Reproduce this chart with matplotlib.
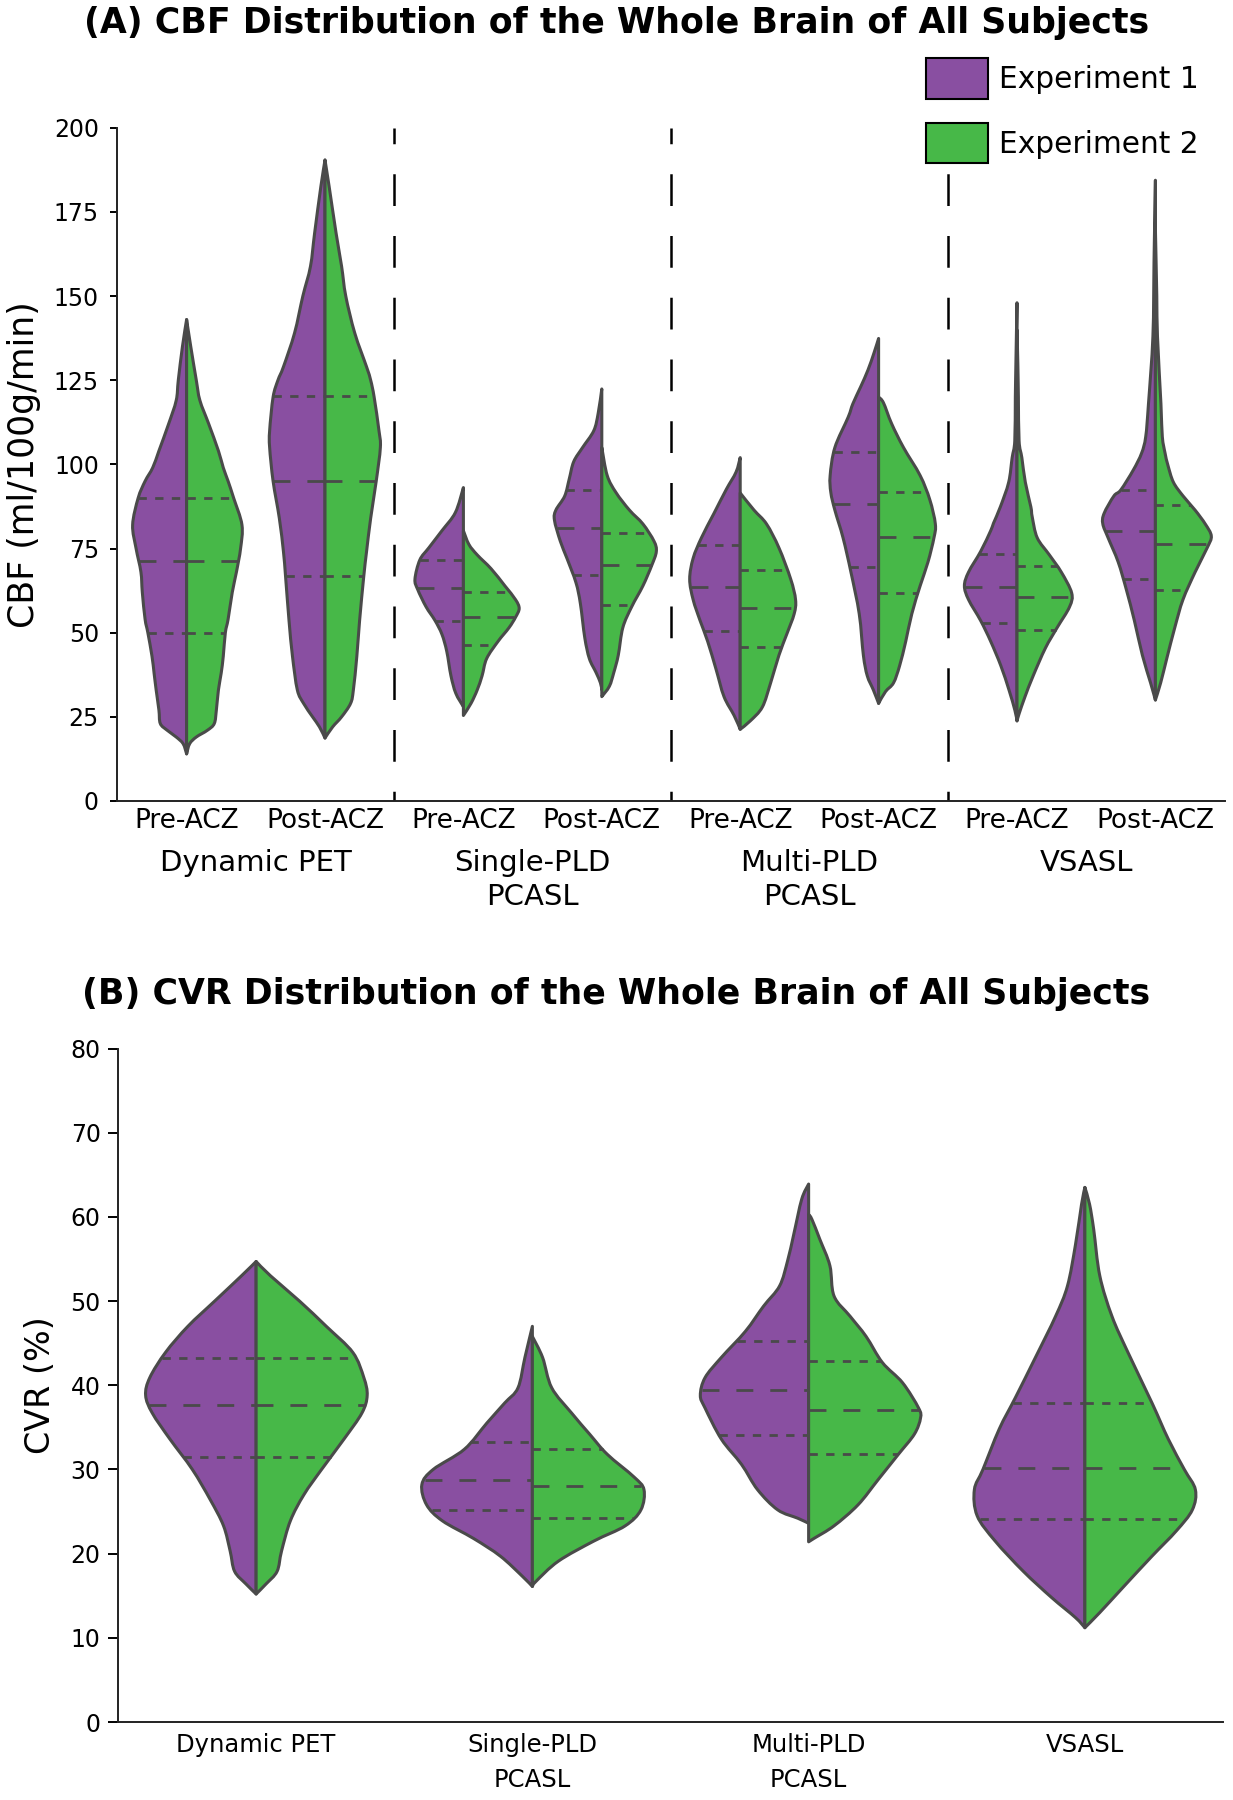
import numpy as np
import matplotlib.pyplot as plt
from matplotlib.path import Path
from matplotlib.patches import PathPatch, Patch

PURPLE = "#894FA1"
GREEN = "#47B848"
EDGE = "#4a4a4a"

# =======================
# (A) CBF: half-violin outlines -> (CBF values, half widths)
# =======================
cbf_groups = ["Dynamic PET", "Single-PLD\nPCASL", "Multi-PLD\nPCASL", "VSASL"]
cbf_ticks = ["Pre-ACZ", "Post-ACZ"] * 4

pet_pre_1 = ([143, 135, 125, 119, 112, 104, 99, 95, 90, 82, 75, 68, 62, 54, 50, 43, 38, 33, 27, 23, 21, 19, 17, 14],
             [0, .03, .06, .075, .13, .2, .245, .30, .35, .39, .365, .33, .32, .30, .28, .25, .235, .22, .20, .19, .14, .075, .025, 0])
pet_pre_2 = ([143, 135, 125, 119, 112, 104, 99, 95, 90, 82, 75, 68, 62, 54, 50, 43, 38, 33, 27, 23, 21, 19, 17, 14],
             [0, .03, .07, .096, .16, .23, .265, .30, .34, .40, .39, .36, .33, .30, .28, .265, .25, .23, .215, .20, .15, .07, .022, 0])
pet_post_1 = ([190.4, 182.5, 168.7, 158.8, 150, 139, 129, 125, 120, 110, 105, 95, 84, 74, 66.7, 53.6, 43, 33, 29, 25, 22, 18.7],
              [0, .03, .075, .105, .16, .22, .30, .34, .375, .40, .40, .375, .33, .30, .285, .26, .235, .20, .155, .09, .04, 0])
pet_post_2 = ([190.4, 182.5, 168.7, 158.8, 150, 139, 129, 125, 120, 110, 105, 95, 84, 74, 66.7, 53.6, 43, 33, 29, 25, 22, 18.7],
              [0, .03, .08, .12, .15, .215, .30, .33, .355, .39, .40, .37, .33, .30, .28, .25, .23, .205, .185, .12, .055, 0])
spld_pre_1 = ([93.1, 85.7, 80.3, 75.2, 71.6, 65.9, 62.8, 57.7, 53.6, 49.5, 44.4, 37.2, 32, 28],
              [0, .058, .155, .25, .315, .35, .33, .27, .205, .155, .12, .09, .055, 0])
spld_pre_2 = ([80.3, 76.2, 73.1, 69, 63.9, 59.8, 57.2, 54.6, 51.5, 47.4, 42.3, 37.2, 33, 29, 25.4],
              [0, .04, .10, .20, .30, .377, .403, .377, .33, .25, .168, .135, .10, .055, 0])
spld_post_1 = ([122.4, 115.2, 110, 105, 100.8, 95.7, 90.6, 86.4, 83.4, 77.2, 72.1, 64.9, 58.7, 48.5, 42.3, 38.2, 35.1, 33],
               [0, .026, .058, .139, .203, .235, .268, .332, .342, .30, .252, .187, .155, .123, .09, .042, .01, 0])
spld_post_2 = ([105, 96.7, 91.6, 86.4, 82.3, 77.2, 74.1, 70, 63.9, 57.7, 51.5, 43.3, 38.2, 34.1, 31],
               [0, .039, .103, .20, .297, .377, .394, .361, .297, .216, .152, .119, .087, .055, 0])
mpld_pre_1 = ([102, 97.7, 92.6, 85.4, 78.2, 72.1, 65.9, 59.8, 53.6, 47.4, 39.2, 31, 25.4, 21.3],
              [0, .03, .10, .19, .28, .34, .365, .34, .29, .235, .175, .117, .044, 0])
mpld_pre_2 = ([91.5, 86.4, 82.3, 75.2, 65.9, 59.8, 55.6, 49.5, 43.3, 35.1, 27.9, 23.8, 21.3],
              [0, .10, .19, .28, .365, .40, .39, .336, .28, .22, .16, .073, 0])
mpld_post_1 = ([137.4, 133, 128, 123, 118, 114, 105, 96.7, 91.6, 86.4, 78.2, 68, 55.6, 43.3, 37.2, 33, 29],
               [0, .034, .077, .13, .186, .22, .316, .35, .345, .316, .257, .20, .14, .11, .082, .038, 0])
mpld_post_2 = ([120, 118.3, 112.1, 105, 96.7, 89.5, 82.3, 78.2, 71, 63.9, 55.6, 47.4, 40.2, 35.1, 32.5, 29],
               [0, .035, .094, .18, .30, .37, .41, .40, .357, .30, .24, .196, .152, .108, .05, 0])
vsasl_pre_1 = ([148, 130, 120, 107, 102, 94.7, 87.4, 82.5, 80.3, 74.1, 68, 63.9, 59.8, 53.6, 47.4, 40.2, 33, 26.9, 23.8],
               [0, .008, .012, .016, .035, .06, .12, .17, .19, .263, .35, .38, .35, .263, .19, .117, .058, .015, 0])
vsasl_pre_2 = ([140, 130, 120, 107, 102, 94.7, 87.4, 84.4, 78.2, 73.1, 68, 61.8, 57.7, 51.5, 45.4, 37.2, 31, 25.9, 23.8],
               [0, .006, .01, .015, .035, .06, .10, .11, .146, .234, .32, .395, .38, .29, .205, .117, .058, .015, 0])
vsasl_post_1 = ([184.4, 170, 160, 138, 118, 108.2, 103.3, 98.3, 92.4, 90.6, 85.4, 82.3, 78.2, 71, 62.8, 53.6, 43.3, 35.1, 30],
                [0, .006, .01, .018, .05, .07, .10, .16, .25, .30, .371, .38, .342, .269, .21, .152, .094, .035, 0])
vsasl_post_2 = ([170, 150, 138, 118, 108.2, 103.3, 99.8, 94.7, 90.6, 86.4, 82.3, 78.7, 75.2, 68, 59.8, 51.5, 42.3, 35.1, 30],
                [0, .01, .015, .04, .05, .07, .09, .13, .20, .287, .36, .404, .374, .287, .199, .14, .082, .038, 0])

cbf_exp1 = [pet_pre_1, pet_post_1, spld_pre_1, spld_post_1, mpld_pre_1, mpld_post_1, vsasl_pre_1, vsasl_post_1]
cbf_exp2 = [pet_pre_2, pet_post_2, spld_pre_2, spld_post_2, mpld_pre_2, mpld_post_2, vsasl_pre_2, vsasl_post_2]

# quartiles (Q1, median, Q3)
cbf_q_exp1 = [(50, 71.4, 90), (66.7, 95.2, 120.3), (53.6, 63.3, 71.6), (67.2, 81.1, 92.3),
              (50.5, 63.7, 75.9), (69.5, 88.3, 103.6), (53.0, 63.7, 73.3), (65.9, 80.3, 92.4)]
cbf_q_exp2 = [(50, 71.4, 90), (66.7, 95.2, 120.3), (46.4, 54.8, 62.0), (58.2, 70.0, 79.6),
              (45.7, 57.4, 68.7), (61.8, 78.4, 91.9), (50.7, 60.5, 69.8), (62.6, 76.2, 88.0)]

# =======================
# (B) CVR
# =======================
cvr_groups = ["Dynamic PET", "Single-PLD\nPCASL", "Multi-PLD\nPCASL", "VSASL"]

cvr_pet_1 = ([54.7, 53, 50, 47, 43.9, 40.9, 38.8, 36.7, 33.6, 30, 26.4, 23.3, 20.3, 17.9, 16.4, 15.2],
             [0, .053, .15, .247, .328, .385, .40, .376, .312, .231, .166, .118, .094, .078, .037, 0])
cvr_pet_2 = ([54.7, 53, 50, 47, 43.9, 40.9, 38.8, 36.7, 33.6, 30, 27, 23.9, 20.3, 17.9, 16.4, 15.2],
             [0, .052, .157, .254, .35, .39, .402, .383, .318, .237, .173, .124, .092, .076, .036, 0])
cvr_spld_1 = ([47, 43.3, 39.7, 37.9, 35.5, 32.4, 30, 28.2, 25.8, 23.9, 21.8, 19.7, 17.3, 16.1],
              [0, .027, .052, .10, .165, .246, .359, .40, .383, .326, .213, .116, .036, 0])
cvr_spld_2 = ([45.8, 43.3, 39.7, 36.7, 34.2, 31.8, 29.1, 27.6, 25.2, 23.3, 21.5, 19.1, 16.7, 16.1],
              [0, .037, .07, .142, .207, .271, .368, .404, .393, .336, .223, .094, .013, 0])
cvr_mpld_1 = ([63.9, 62.1, 57.9, 54.8, 51.8, 49.4, 46.4, 43.3, 40.9, 38.8, 37.3, 33.6, 30.6, 27.6, 25.2, 24.2, 23.6],
              [0, .025, .054, .076, .105, .163, .229, .316, .375, .392, .375, .316, .243, .185, .112, .039, 0])
cvr_mpld_2 = ([60.3, 59.7, 57.3, 54.2, 50.6, 48.2, 45.8, 42.7, 40.3, 37.3, 36.1, 34.2, 31.8, 28.8, 25.8, 23.3, 21.8, 21.4],
              [0, .012, .041, .077, .092, .15, .208, .267, .34, .398, .405, .383, .325, .252, .179, .092, .019, 0])
cvr_vsasl_1 = ([63.5, 61.5, 56.7, 51.8, 48.2, 43.3, 38.5, 34.8, 30, 27.6, 24.5, 21.5, 17.9, 14.8, 12.4, 11.2],
               [0, .012, .034, .063, .106, .179, .252, .31, .369, .40, .39, .325, .223, .121, .034, 0])
cvr_vsasl_2 = ([63.5, 61.5, 58.5, 53, 48.2, 43.9, 37.9, 33.6, 30, 27.6, 25.2, 22.7, 19.7, 16.1, 13, 11.2],
               [0, .017, .032, .054, .098, .156, .243, .302, .36, .40, .389, .331, .243, .141, .054, 0])

cvr_exp1 = [cvr_pet_1, cvr_spld_1, cvr_mpld_1, cvr_vsasl_1]
cvr_exp2 = [cvr_pet_2, cvr_spld_2, cvr_mpld_2, cvr_vsasl_2]
cvr_q_exp1 = [(31.5, 37.7, 43.2), (25.2, 28.7, 33.2), (34.1, 39.4, 45.3), (24.1, 30.2, 37.9)]
cvr_q_exp2 = [(31.5, 37.7, 43.2), (24.2, 28.0, 32.4), (31.8, 37.1, 42.9), (24.1, 30.2, 37.9)]


# =======================
# helpers
# =======================
def half_violin(ax, pos, prof, side, color):
    ys = np.asarray(prof[0], float)
    ws = np.asarray(prof[1], float)
    pts = np.column_stack([pos + side * ws, ys])
    verts = [(pos, ys[-1]), (pos, ys[0])]
    codes = [Path.MOVETO, Path.LINETO]
    p = np.vstack([pts[:1], pts, pts[-1:]])
    # smooth outline (Catmull-Rom -> cubic bezier)
    for i in range(len(pts) - 1):
        p0, p1, p2, p3 = p[i], p[i + 1], p[i + 2], p[i + 3]
        c1 = p1 + (p2 - p0) / 6
        c2 = p2 - (p3 - p1) / 6
        verts += [tuple(c1), tuple(c2), tuple(p2)]
        codes += [Path.CURVE4] * 3
    verts.append((pos, ys[-1]))
    codes.append(Path.CLOSEPOLY)
    ax.add_patch(PathPatch(Path(verts, codes), facecolor=color, edgecolor=EDGE,
                           lw=2.2, joinstyle="round", zorder=2))


def quartile_lines(ax, pos, prof, side, qs):
    ys = np.asarray(prof[0], float)[::-1]
    ws = np.asarray(prof[1], float)[::-1]
    for k, q in enumerate(qs):
        w = np.interp(q, ys, ws)
        dash = (6.1, 6.1) if k == 1 else (3.0, 3.0)
        xs = [pos - w, pos] if side < 0 else [pos, pos + w]
        ax.plot(xs, [q, q], color=EDGE, lw=2.0, ls=(0, dash), zorder=3)


def style_axes(ax):
    for s in ["top", "right"]:
        ax.spines[s].set_visible(False)
    for s in ["left", "bottom"]:
        ax.spines[s].set_linewidth(1.4)
        ax.spines[s].set_color("#222222")


fig = plt.figure(figsize=(12.33, 18), dpi=100)

# --- (A) ---
axA = fig.add_axes([117.4 / 1233, 999 / 1800, 1107.2 / 1233, 673.3 / 1800])
for i in range(8):
    half_violin(axA, i, cbf_exp1[i], -1, PURPLE)
    half_violin(axA, i, cbf_exp2[i], 1, GREEN)
    quartile_lines(axA, i, cbf_exp1[i], -1, cbf_q_exp1[i])
    quartile_lines(axA, i, cbf_exp2[i], 1, cbf_q_exp2[i])
for xs in [1.5, 3.5, 5.5]:
    # drawn top-down so the pattern starts with a short dash at 200
    axA.plot([xs, xs], [200, 0], color="black", lw=1.8, ls=(6.4, (12.7, 12)), zorder=1)

axA.set_xlim(-0.5, 7.5)
axA.set_ylim(0, 200)
axA.set_yticks(np.arange(0, 201, 25))
axA.set_xticks(range(8))
axA.set_xticklabels(cbf_ticks, fontsize=19)
axA.tick_params(axis="x", length=0, pad=5)
axA.tick_params(axis="y", labelsize=17, length=5.3, width=1.4, pad=8)
style_axes(axA)
for g, name in enumerate(cbf_groups):
    axA.text(2 * g + 0.5, -0.072, name, transform=axA.get_xaxis_transform(),
             ha="center", va="top", fontsize=21, linespacing=1.25)

fig.text(24 / 1233, 1 - 465 / 1800, "CBF (ml/100g/min)", rotation=90,
         ha="center", va="center", fontsize=25)
fig.text(0.5, 1 - 23 / 1800, "(A) CBF Distribution of the Whole Brain of All Subjects",
         ha="center", va="center", fontsize=25, fontweight="bold")

fig.legend(handles=[Patch(facecolor=PURPLE, edgecolor="black", lw=1.5, label="Experiment 1"),
                    Patch(facecolor=GREEN, edgecolor="black", lw=1.5, label="Experiment 2")],
           loc="upper left", bbox_to_anchor=(926 / 1233, 1 - 58 / 1800), frameon=False,
           fontsize=21.3, handlelength=2.08, handleheight=1.75, labelspacing=0.8,
           handletextpad=0.4, borderpad=0, borderaxespad=0)

# --- (B) ---
axB = fig.add_axes([118 / 1233, 78 / 1800, 1105 / 1233, 673.5 / 1800])
for i in range(4):
    half_violin(axB, i, cvr_exp1[i], -1, PURPLE)
    half_violin(axB, i, cvr_exp2[i], 1, GREEN)
    quartile_lines(axB, i, cvr_exp1[i], -1, cvr_q_exp1[i])
    quartile_lines(axB, i, cvr_exp2[i], 1, cvr_q_exp2[i])

axB.set_xlim(-0.5, 3.5)
axB.set_ylim(0, 80)
axB.set_yticks(np.arange(0, 81, 10))
axB.set_xticks(range(4))
axB.set_xticklabels(cvr_groups, fontsize=17.5, linespacing=1.55)
axB.tick_params(axis="x", length=0, pad=8)
axB.tick_params(axis="y", labelsize=17, length=7, width=1.4, pad=5.5)
style_axes(axB)

fig.text(40 / 1233, 1 - 1385 / 1800, "CVR (%)", rotation=90,
         ha="center", va="center", fontsize=24)
fig.text(0.5, 1 - 994 / 1800, "(B) CVR Distribution of the Whole Brain of All Subjects",
         ha="center", va="center", fontsize=25, fontweight="bold")

fig.savefig("out.png", dpi=100)
